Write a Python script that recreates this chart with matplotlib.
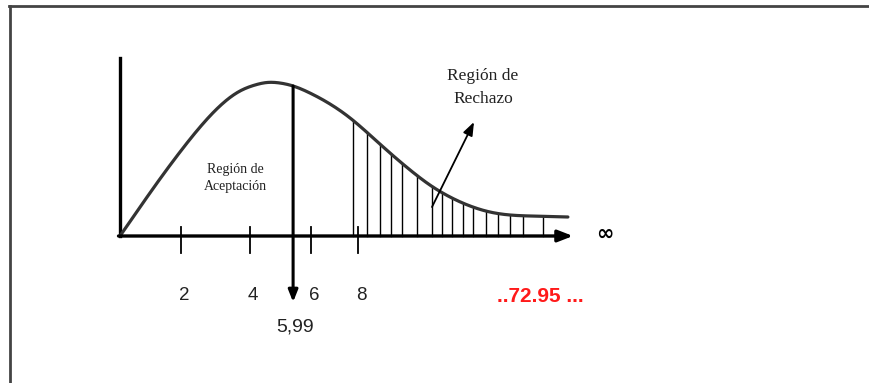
import numpy as np
import matplotlib
matplotlib.use("Agg")
import matplotlib.pyplot as plt

# ---- data (schematic chi-square density) ----
curve_x = [0.0, 0.67, 1.33, 2.0, 2.67, 3.33, 4.0, 4.5, 4.9, 5.33, 5.77, 6.33,
           7.0, 7.67, 8.33, 9.0, 9.67, 10.33, 11.0, 11.67, 12.33, 13.0, 13.67,
           14.33, 14.93]
curve_y = [0.0, 0.029, 0.057, 0.084, 0.109, 0.130, 0.145, 0.151, 0.1535,
           0.153, 0.150, 0.143, 0.132, 0.118, 0.101, 0.083, 0.066, 0.051,
           0.039, 0.030, 0.024, 0.021, 0.020, 0.0195, 0.019]
hatch_x = [7.77, 8.23, 8.67, 9.03, 9.4, 9.9, 10.4, 10.73, 11.07, 11.43,
           11.77, 12.2, 12.6, 13.0, 13.43, 14.1]
tick_pos = [2.03, 4.33, 6.37, 7.93]
tick_labels = ["2", "4", "6", "8"]
critical_x = 5.77
critical_label = "5,99"
stat_label = "..72.95 ..."
accept_label = "Región de\nAceptación"
reject_label = "Región de\nRechazo"


def natural_spline(xs, ys, n=600):
    x = np.asarray(xs, float); y = np.asarray(ys, float)
    m = len(x); h = np.diff(x)
    A = np.zeros((m, m)); b = np.zeros(m)
    A[0, 0] = A[-1, -1] = 1
    for i in range(1, m - 1):
        A[i, i-1] = h[i-1]; A[i, i] = 2*(h[i-1] + h[i]); A[i, i+1] = h[i]
        b[i] = 3*((y[i+1]-y[i])/h[i] - (y[i]-y[i-1])/h[i-1])
    c = np.linalg.solve(A, b)
    xx = np.linspace(x[0], x[-1], n)
    idx = np.clip(np.searchsorted(x, xx) - 1, 0, m - 2)
    dx = xx - x[idx]
    bb = (y[1:]-y[:-1])/h - h*(2*c[:-1] + c[1:])/3
    d = (c[1:] - c[:-1])/(3*h)
    yy = y[idx] + bb[idx]*dx + c[idx]*dx**2 + d[idx]*dx**3
    return xx, yy


fig = plt.figure(figsize=(8.69, 3.83), dpi=100)
ax = fig.add_axes([0, 0, 1, 1])
ax.set_xlim(-4.0, 24.967)
ax.set_ylim(-0.147, 0.236)
ax.axis("off")

# frame lines (top and left)
fig.add_artist(plt.Line2D([9/869, 1], [1-6/383, 1-6/383], color="#444444", lw=2.0))
fig.add_artist(plt.Line2D([10/869, 10/869], [0, 1-6/383], color="#444444", lw=2.0))

sx, sy = natural_spline(curve_x, curve_y)
ax.plot(sx, sy, color="#333333", lw=2.3, solid_capstyle="round", zorder=3)

# axes
ax.plot([0, 0], [0, 0.178], color="black", lw=2.4)
ax.annotate("", xy=(15.1, 0.0), xytext=(-0.05, 0.0),
            arrowprops=dict(arrowstyle="-|>,head_length=0.9,head_width=0.35",
                            color="black", lw=2.4, shrinkA=0, shrinkB=0))
for t in tick_pos:
    ax.plot([t, t], [0.009, -0.017], color="black", lw=1.3)

# hatching of rejection region
for hx in hatch_x:
    ax.plot([hx, hx], [0, np.interp(hx, sx, sy)], color="black", lw=1.0)

# critical value line
ax.annotate("", xy=(critical_x, -0.066), xytext=(critical_x, np.interp(critical_x, sx, sy)),
            arrowprops=dict(arrowstyle="-|>,head_length=0.7,head_width=0.28",
                            color="black", lw=2.2, shrinkA=0, shrinkB=0))

# rejection pointer arrow
ax.annotate("", xy=(11.8, 0.114), xytext=(10.4, 0.029),
            arrowprops=dict(arrowstyle="-|>,head_length=0.8,head_width=0.3",
                            color="black", lw=1.3, shrinkA=0, shrinkB=0))

serif = ["Liberation Serif", "DejaVu Serif"]
sans = ["Liberation Sans", "DejaVu Sans"]
ax.text(12.1, 0.1485, reject_label, ha="center", va="center", fontsize=12.5,
        family=serif, color="#222222", linespacing=1.55)
ax.text(3.85, 0.058, accept_label, ha="center", va="center", fontsize=10,
        family=serif, color="#222222", linespacing=1.35)

for t, lab in zip(tick_pos, tick_labels):
    ax.text(t + 0.1, -0.060, lab, ha="center", va="center", fontsize=13.5,
            family=sans, color="#222222")
ax.text(critical_x + 0.07, -0.091, critical_label, ha="center", va="center",
        fontsize=14, family=sans, color="#222222")
ax.text(14.0, -0.061, stat_label, ha="center", va="center", fontsize=15,
        family=sans, color="#ff1a1a", fontweight="bold")
ax.text(16.17, 0.002, "∞", ha="center", va="center", fontsize=15,
        family=["DejaVu Sans"], fontweight="bold", color="black")

fig.savefig("out.png", dpi=100)
